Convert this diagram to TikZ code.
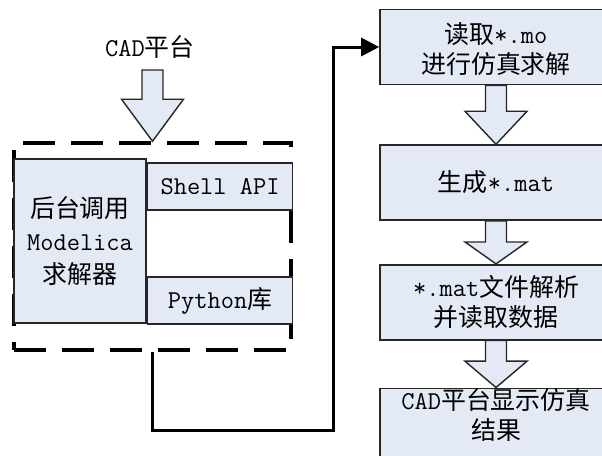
\documentclass[tikz,border=0pt]{standalone}
\usepackage{fontspec}
\newfontfamily\cjk{Noto Sans CJK SC}[Scale=0.97]
\usetikzlibrary{positioning,calc,arrows.meta}
\definecolor{boxfill}{HTML}{E3EAF6}
\newcommand{\zh}[1]{{\cjk #1}}
% hollow block arrow: tail, tip, share of the gap taken by the head
\newcommand{\fatarrow}[3]{%
  \draw[fatarr] let \p1=#1, \p2=#2, \n1={\y1+#3*(\y2-\y1)} in
    (\x2-10.5pt,\y1) -- (\x2-10.5pt,\n1) -- (\x2-31pt,\n1) -- (\x2,\y2)
    -- (\x2+31pt,\n1) -- (\x2+10.5pt,\n1) -- (\x2+10.5pt,\y1) -- cycle;}
\tikzset{
  stepbox/.style={draw=black!85,line width=1.6pt,fill=boxfill,align=center,
    inner sep=0pt,minimum width=232pt,minimum height=75pt},
  sidebox/.style={stepbox,minimum width=145pt,minimum height=47pt},
  fatarr/.style={draw=black!85,line width=1.4pt,fill=boxfill,line join=miter},
  frame/.style={draw,line width=3.5pt,dash pattern=on 32pt off 16pt,
    minimum width=277pt,minimum height=207pt,inner sep=0pt},
  link/.style={draw,line width=3pt,-{Triangle[length=18pt,width=18pt]}}
}
\begin{document}
\begin{tikzpicture}[x=1pt,y=-1pt,font=\ttfamily\fontsize{25.7pt}{30pt}\selectfont]
\useasboundingbox (0,0) rectangle (602,455);
\clip (0,0) rectangle (602,455);

\node (cad) at (150,47) {CAD\zh{平台}};
\coordinate (cadtail) at (152.5,70);
\node[frame] (frame) at (152.5,246.5) {};
\node[stepbox,minimum width=132pt,minimum height=164pt,
  font=\ttfamily\fontsize{25.7pt}{33pt}\selectfont] (solver) at (80,241)
  {\zh{后台调用}\\Modelica\\\zh{求解器}};
\node[sidebox,anchor=north west] (shell) at ($(solver.north east)+(0,4)$) {Shell API};
\node[sidebox,anchor=south west] (python) at ($(solver.south east)+(0,1)$) {Python\zh{库}};

\node[stepbox,text height=54pt,text depth=2pt] (b1) at (496,47) {\zh{读取}*.mo\\\zh{进行仿真求解}};
\node[stepbox,below=59pt of b1] (b2) {\zh{生成}*.mat};
\node[stepbox,below=43pt of b2] (b3) {*.mat\zh{文件解析}\\\zh{并读取数据}};
\node[stepbox,below=47pt of b3,text depth=26pt] (b4) {CAD\zh{平台显示仿真}\\\zh{结果}};

\fatarrow{(cadtail)}{(frame.north)}{0.41}
\fatarrow{(b1.south)}{(b2.north)}{0.44}
\fatarrow{(b2.south)}{(b3.north)}{0.49}
\fatarrow{(b3.south)}{(b4.north)}{0.44}

\coordinate (turn) at (333,430);
\draw[link] (frame.south) |- (turn) |- (b1.west);
\end{tikzpicture}
\end{document}
